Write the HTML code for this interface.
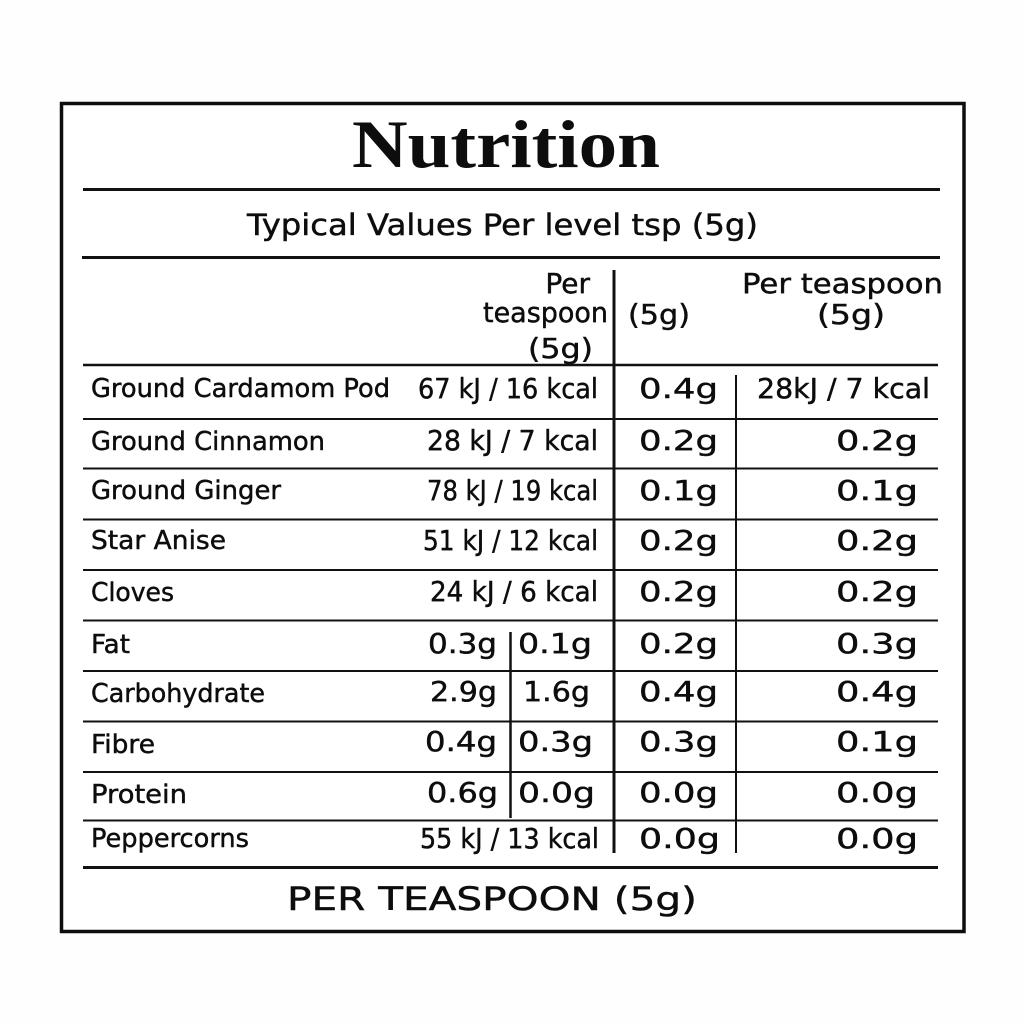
<!DOCTYPE html>
<html>
<head>
<meta charset="utf-8">
<style>
  html,body{margin:0;padding:0;background:#fff;}
  svg{display:block;}
  .s{font-family:"DejaVu Sans","Liberation Sans",sans-serif;fill:#0d0d0d;stroke:#0d0d0d;stroke-width:0.45;}
  .t{font-family:"Liberation Serif","DejaVu Serif",serif;font-weight:bold;fill:#0d0d0d;}
</style>
</head>
<body>
<svg width="1024" height="1024" viewBox="0 0 1024 1024" xmlns="http://www.w3.org/2000/svg">
  <rect x="0" y="0" width="1024" height="1024" fill="#fefefe"/>
  <!-- outer box -->
  <rect x="61.5" y="103.5" width="902.5" height="828" fill="#fff" stroke="#0d0d0d" stroke-width="3.5"/>

  <!-- horizontal lines -->
  <g stroke="#111" fill="none">
    <line x1="83" y1="189.5" x2="940" y2="189.5" stroke-width="3"/>
    <line x1="82" y1="257.5" x2="940" y2="257.5" stroke-width="3"/>
    <line x1="83" y1="365" x2="938" y2="365" stroke-width="2.5"/>
    <line x1="83" y1="419" x2="938" y2="419" stroke-width="2"/>
    <line x1="83" y1="468.5" x2="938" y2="468.5" stroke-width="2"/>
    <line x1="83" y1="519.5" x2="938" y2="519.5" stroke-width="2"/>
    <line x1="83" y1="570" x2="938" y2="570" stroke-width="2"/>
    <line x1="83" y1="620.5" x2="938" y2="620.5" stroke-width="2"/>
    <line x1="83" y1="671" x2="938" y2="671" stroke-width="2"/>
    <line x1="83" y1="721.5" x2="938" y2="721.5" stroke-width="2"/>
    <line x1="83" y1="772" x2="938" y2="772" stroke-width="2"/>
    <line x1="83" y1="820.5" x2="938" y2="820.5" stroke-width="2"/>
    <line x1="83" y1="867.5" x2="938" y2="867.5" stroke-width="3"/>
    <!-- vertical lines -->
    <line x1="614" y1="270" x2="614" y2="853" stroke-width="3"/>
    <line x1="736" y1="375" x2="736" y2="853" stroke-width="2"/>
    <line x1="510.5" y1="632" x2="510.5" y2="818" stroke-width="2.5"/>
  </g>

  <!-- title -->
  <text class="t" x="352" y="167" font-size="68" textLength="308" lengthAdjust="spacingAndGlyphs">Nutrition</text>
  <text class="s" x="247" y="235" font-size="29" textLength="511" lengthAdjust="spacingAndGlyphs">Typical Values Per level tsp (5g)</text>

  <!-- header -->
  <text class="s" x="590" y="293" font-size="28" text-anchor="end">Per</text>
  <text class="s" x="483" y="322" font-size="28" textLength="125" lengthAdjust="spacingAndGlyphs">teaspoon</text>
  <text class="s" x="528" y="358" font-size="28" textLength="65" lengthAdjust="spacingAndGlyphs">(5g)</text>
  <text class="s" x="628" y="324" font-size="28" textLength="62" lengthAdjust="spacingAndGlyphs">(5g)</text>
  <text class="s" x="742" y="293" font-size="28" textLength="201" lengthAdjust="spacingAndGlyphs">Per teaspoon</text>
  <text class="s" x="817" y="324" font-size="28" textLength="68" lengthAdjust="spacingAndGlyphs">(5g)</text>

  <!-- row labels -->
  <g class="s" font-size="25.5">
    <text x="91" y="397" textLength="299" lengthAdjust="spacingAndGlyphs">Ground Cardamom Pod</text>
    <text x="91" y="450" textLength="234" lengthAdjust="spacingAndGlyphs">Ground Cinnamon</text>
    <text x="91" y="499" textLength="190" lengthAdjust="spacingAndGlyphs">Ground Ginger</text>
    <text x="91" y="549" textLength="135" lengthAdjust="spacingAndGlyphs">Star Anise</text>
    <text x="91" y="601" textLength="83" lengthAdjust="spacingAndGlyphs">Cloves</text>
    <text x="91" y="653" textLength="39" lengthAdjust="spacingAndGlyphs">Fat</text>
    <text x="91" y="702" textLength="174" lengthAdjust="spacingAndGlyphs">Carbohydrate</text>
    <text x="91" y="753" textLength="64" lengthAdjust="spacingAndGlyphs">Fibre</text>
    <text x="91" y="803" textLength="96" lengthAdjust="spacingAndGlyphs">Protein</text>
    <text x="91" y="847" textLength="158" lengthAdjust="spacingAndGlyphs">Peppercorns</text>
  </g>

  <!-- column 1 values -->
  <g class="s" font-size="27.5">
    <text x="418" y="398" textLength="180" lengthAdjust="spacingAndGlyphs">67 kJ / 16 kcal</text>
    <text x="427" y="450" textLength="171" lengthAdjust="spacingAndGlyphs">28 kJ / 7 kcal</text>
    <text x="427" y="500" textLength="171" lengthAdjust="spacingAndGlyphs">78 kJ / 19 kcal</text>
    <text x="423" y="550" textLength="175" lengthAdjust="spacingAndGlyphs">51 kJ / 12 kcal</text>
    <text x="430" y="601" textLength="168" lengthAdjust="spacingAndGlyphs">24 kJ / 6 kcal</text>
    <text x="428" y="653" textLength="69" lengthAdjust="spacingAndGlyphs">0.3g</text>
    <text x="430" y="701" textLength="67" lengthAdjust="spacingAndGlyphs">2.9g</text>
    <text x="425" y="751" textLength="72" lengthAdjust="spacingAndGlyphs">0.4g</text>
    <text x="427" y="802" textLength="71" lengthAdjust="spacingAndGlyphs">0.6g</text>
    <text x="518" y="653" textLength="74" lengthAdjust="spacingAndGlyphs">0.1g</text>
    <text x="523" y="701" textLength="67" lengthAdjust="spacingAndGlyphs">1.6g</text>
    <text x="518" y="751" textLength="75" lengthAdjust="spacingAndGlyphs">0.3g</text>
    <text x="518" y="802" textLength="77" lengthAdjust="spacingAndGlyphs">0.0g</text>
    <text x="420" y="848" textLength="179" lengthAdjust="spacingAndGlyphs">55 kJ / 13 kcal</text>
  </g>

  <!-- column 2 values -->
  <g class="s" font-size="28">
    <text x="639" y="398" textLength="79" lengthAdjust="spacingAndGlyphs">0.4g</text>
    <text x="639" y="450" textLength="79" lengthAdjust="spacingAndGlyphs">0.2g</text>
    <text x="639" y="500" textLength="79" lengthAdjust="spacingAndGlyphs">0.1g</text>
    <text x="639" y="550" textLength="79" lengthAdjust="spacingAndGlyphs">0.2g</text>
    <text x="639" y="601" textLength="79" lengthAdjust="spacingAndGlyphs">0.2g</text>
    <text x="639" y="653" textLength="79" lengthAdjust="spacingAndGlyphs">0.2g</text>
    <text x="639" y="701" textLength="79" lengthAdjust="spacingAndGlyphs">0.4g</text>
    <text x="639" y="751" textLength="79" lengthAdjust="spacingAndGlyphs">0.3g</text>
    <text x="639" y="802" textLength="79" lengthAdjust="spacingAndGlyphs">0.0g</text>
    <text x="639" y="848" textLength="81" lengthAdjust="spacingAndGlyphs">0.0g</text>
  </g>

  <!-- column 3 values -->
  <g class="s" font-size="28">
    <text x="757" y="398" textLength="173" lengthAdjust="spacingAndGlyphs">28kJ / 7 kcal</text>
    <text x="836" y="450" textLength="82" lengthAdjust="spacingAndGlyphs">0.2g</text>
    <text x="836" y="500" textLength="82" lengthAdjust="spacingAndGlyphs">0.1g</text>
    <text x="836" y="550" textLength="82" lengthAdjust="spacingAndGlyphs">0.2g</text>
    <text x="836" y="601" textLength="82" lengthAdjust="spacingAndGlyphs">0.2g</text>
    <text x="836" y="653" textLength="82" lengthAdjust="spacingAndGlyphs">0.3g</text>
    <text x="836" y="701" textLength="82" lengthAdjust="spacingAndGlyphs">0.4g</text>
    <text x="836" y="751" textLength="82" lengthAdjust="spacingAndGlyphs">0.1g</text>
    <text x="836" y="802" textLength="82" lengthAdjust="spacingAndGlyphs">0.0g</text>
    <text x="836" y="848" textLength="82" lengthAdjust="spacingAndGlyphs">0.0g</text>
  </g>

  <!-- footer -->
  <text class="s" x="287" y="910" font-size="32" textLength="410" lengthAdjust="spacingAndGlyphs">PER TEASPOON (5g)</text>
</svg>
</body>
</html>
